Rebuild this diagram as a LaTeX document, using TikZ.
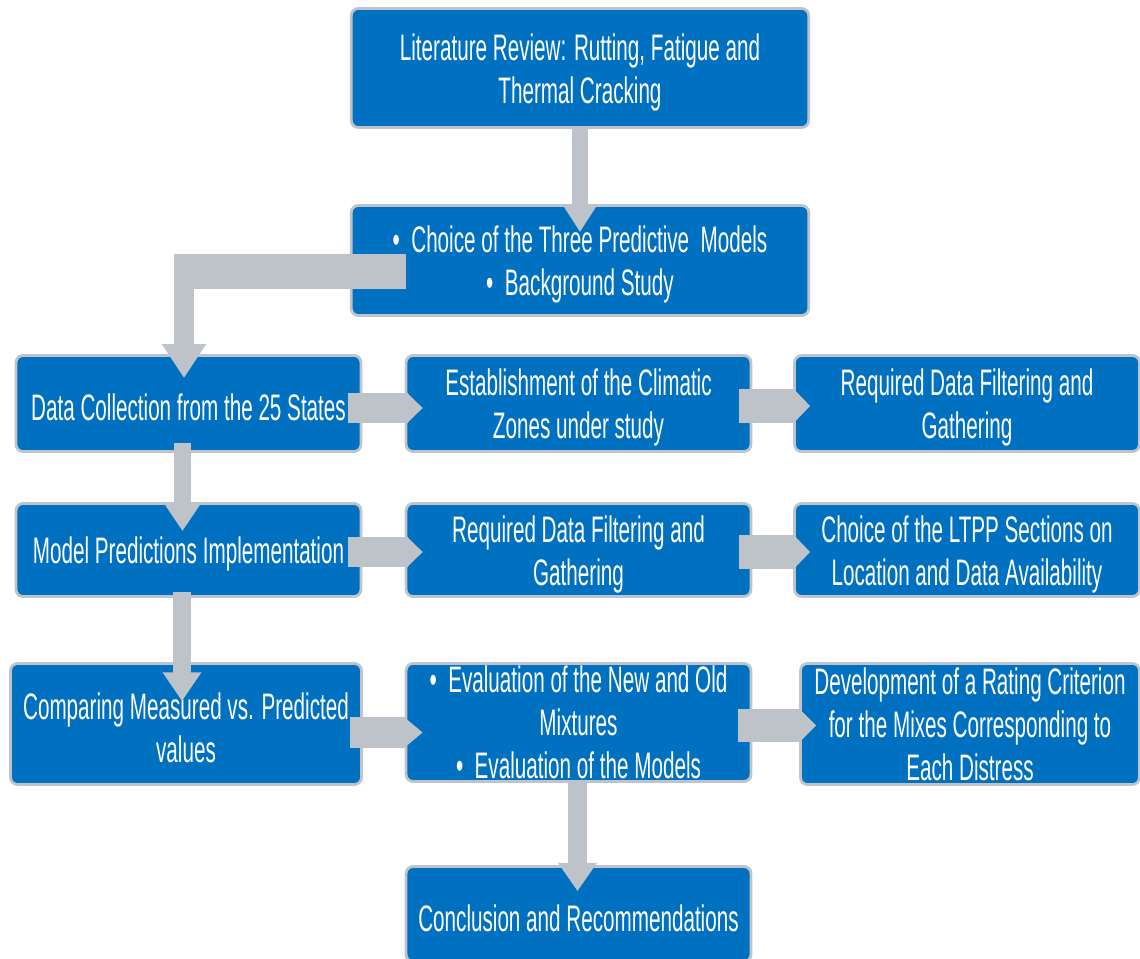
\documentclass[tikz,border=0pt]{standalone}
\usepackage{fontspec}
\setmainfont[FakeStretch=0.56]{Liberation Sans}
\usepackage{tikz}
\usetikzlibrary{positioning, arrows.meta, calc}
\definecolor{boxblue}{HTML}{0070C0}
\definecolor{boxline}{HTML}{BFC3CA}
\definecolor{arrowgrey}{HTML}{BEC2C9}
\newcommand{\lift}{\rule{0pt}{20pt}}

\begin{document}
\begin{tikzpicture}[
    x=0.02cm, y=-0.02cm,
    box/.style={draw=boxline, fill=boxblue, line width=1.6pt, rounded corners=4pt,
        text=white, align=center, inner sep=0pt,
        font=\fontsize{21}{24.5}\selectfont},
    wide/.style={box, minimum width=9.15cm},
    mid/.style={box, minimum width=6.9cm},
    flow/.style={draw=arrowgrey, line width=#1},
]
\fill[white] (0,0) rectangle (1140,959);
\useasboundingbox (0,0) rectangle (1140,959);

% top of the chart
\node[wide, minimum height=2.38cm] (lit) at (580,68) {\lift Literature Review: Rutting, Fatigue and\\Thermal Cracking};
\node[wide, minimum height=2.2cm] (choice) at (580,260.5) {\lift\textbullet\ \ Choice of the Three Predictive\ \ Models\\\textbullet\ \ Background Study};

% rows
\node[mid, minimum height=1.92cm] (data) at (188.5,403.5) {\lift Data Collection from the 25 States};
\node[mid, minimum height=1.92cm] (zones) at (578.5,403.5) {\lift Establishment of the Climatic\\Zones under study};
\node[mid, minimum height=1.92cm] (filt1) at (967,403.5) {\lift Required Data Filtering and\\Gathering};

\node[mid, minimum height=1.86cm] (model) at (188.5,550) {\lift Model Predictions Implementation};
\node[mid, minimum height=1.86cm] (filt2) at (578.5,550) {\lift Required Data Filtering and\\Gathering};
\node[mid, minimum height=1.86cm] (ltpp) at (967,550) {\lift Choice of the LTPP Sections on\\Location and Data Availability};

\node[box, minimum width=7.02cm, minimum height=2.42cm] (comp) at (186,724) {\lift Comparing Measured vs. Predicted\\values};
\node[mid, minimum height=2.36cm] (eval) at (578.5,722.5) {\textbullet\ \ Evaluation of the New and Old\\Mixtures\\\textbullet\ \ Evaluation of the Models};
\node[box, minimum width=6.78cm, minimum height=2.42cm] (rating) at (970,724) {Development of a Rating Criterion\\for the Mixes Corresponding to\\Each Distress};

\node[mid, minimum height=1.9cm] (concl) at (578.5,914) {\lift Conclusion and Recommendations};

% block arrows
\draw[flow=9.6pt, -{Triangle[width=17.6pt,length=14.7pt]}] (lit.south) -- ($(choice.north)+(0,28)$);

\coordinate (bendR) at (406,271.5);
\coordinate (bendL) at (174,271.5);
\coordinate (bendT) at (184,254);
\draw[flow=19.8pt] (bendR) -- (bendL);
\draw[flow=11.3pt, -{Triangle[width=23.8pt,length=19.3pt]}] (bendT) -- ($(data.north)+(-4.5,24)$);

\draw[flow=9.6pt, -{Triangle[width=19.3pt,length=15.3pt]}] ($(data.south)+(-6,-10)$) -- ($(model.north)+(-6,29)$);
\draw[flow=10.2pt, -{Triangle[width=21pt,length=16.4pt]}] ($(model.south)+(-6.5,-6)$) -- ($(comp.north)+(-4,39)$);
\draw[flow=10.8pt, -{Triangle[width=21pt,length=16pt]}] ($(eval.south)+(-1,-2)$) -- ($(concl.north)+(-1,26)$);

\draw[flow=17pt, -{Triangle[width=17pt,length=9pt]}] ($(data.east)+(-14,4.5)$) -- ($(zones.west)+(18,4.5)$);
\draw[flow=19.3pt, -{Triangle[width=19.3pt,length=9.6pt]}] ($(zones.east)+(-13,2.5)$) -- ($(filt1.west)+(17,2.5)$);
\draw[flow=17pt, -{Triangle[width=17pt,length=9pt]}] ($(model.east)+(-14,2)$) -- ($(filt2.west)+(18,2)$);
\draw[flow=19.3pt, -{Triangle[width=19.3pt,length=9.6pt]}] ($(filt2.east)+(-13,2)$) -- ($(ltpp.west)+(17,2)$);
\draw[flow=17.6pt, -{Triangle[width=17.6pt,length=11pt]}] ($(comp.east)+(-13,8.5)$) -- ($(eval.west)+(18,10)$);
\draw[flow=18.7pt, -{Triangle[width=18.7pt,length=9.6pt]}] ($(eval.east)+(-14,3)$) -- ($(rating.west)+(17,1.5)$);
\end{tikzpicture}
\end{document}
